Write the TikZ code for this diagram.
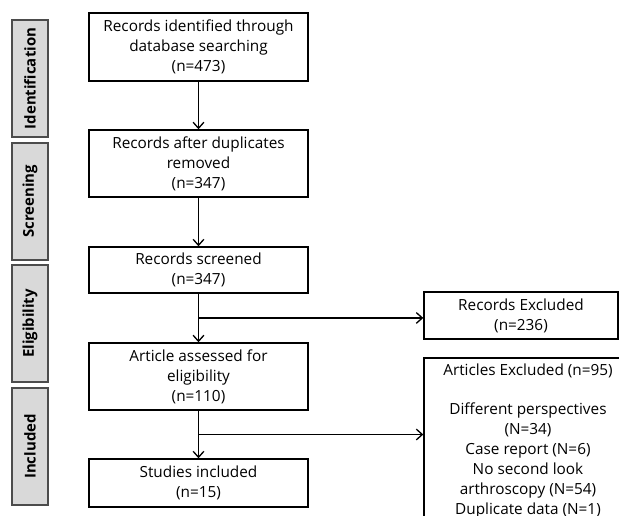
\documentclass[tikz,border=0pt]{standalone}
\usepackage{fontspec}
\setmainfont{Open Sans}
\usetikzlibrary{arrows.meta,calc,positioning}

\begin{document}
\begin{tikzpicture}[x=0.75pt,y=-0.75pt,font=\fontsize{11.5}{15}\selectfont,
   >={Straight Barb[length=4.5pt,width=8pt]},
   box/.style={draw,line width=1pt,align=center,inner sep=0pt,
     minimum width=164.3pt},
   xbox/.style={draw,line width=1pt,align=center,inner sep=0pt},
   stage/.style={draw=black!70,fill=black!15,line width=1pt,rotate=90,
     minimum width=87.75pt,minimum height=27pt,inner sep=0pt,
     font=\fontsize{11.2}{12}\selectfont\bfseries}]
 \useasboundingbox (0,0) rectangle (619,516);
 \clip (0,0) rectangle (619,516);
 % stages on the left
 \node[stage] (sid) at (30,78.5) {Identification};
 \node[stage] (ssc) at (30,201.5) {Screening};
 \node[stage] (sel) at (30,323.5) {Eligibility};
 \node[stage] (sin) at (30,446.5) {Included};
 % main column
 \node[box,minimum height=51pt] (ident) at (198.5,47)
   {Records identified through\\database searching\\(n=473)};
 \node[box,minimum height=50.3pt] (dup) at (198.5,163.5)
   {Records after duplicates\\removed\\(n=347)};
 \node[box,minimum height=34.5pt] (scr) at (198.5,270)
   {Records screened\\(n=347)};
 \node[box,minimum height=50.3pt] (elig) at (198.5,376.5)
   {Article assessed for\\eligibility\\(n=110)};
 \node[box,minimum height=36pt] (incl) at (198.5,483)
   {Studies included\\(n=15)};
 % excluded boxes
 \node[xbox,minimum width=145.5pt,minimum height=35.3pt] (rex) at (521,315.5)
   {Records Excluded\\(n=236)};
 \node[xbox,minimum width=156pt,minimum height=124.5pt] (aex) at (528,441)
   {Articles Excluded (n=95)\\[14pt]Different perspectives\\(N=34)\\
    Case report (N=6)\\No second look\\arthroscopy (N=54)\\
    Duplicate data (N=1)};
 % arrows
 \draw[->,line width=1pt] (ident)--(dup);
 \draw[->,line width=1pt] (dup)--(scr);
 \draw[->,line width=1pt] (scr)--(elig);
 \draw[->,line width=1pt] (elig)--(incl);
 \coordinate (j1) at ($(scr.south)!.5!(elig.north)$);
 \coordinate (j2) at ($(elig.south)!.5!(incl.north)$);
 \draw[->,line width=1pt] (j1)--(j1 -| rex.west);
 \draw[->,line width=1pt] (j2)--(j2 -| aex.west);
\end{tikzpicture}
\end{document}
